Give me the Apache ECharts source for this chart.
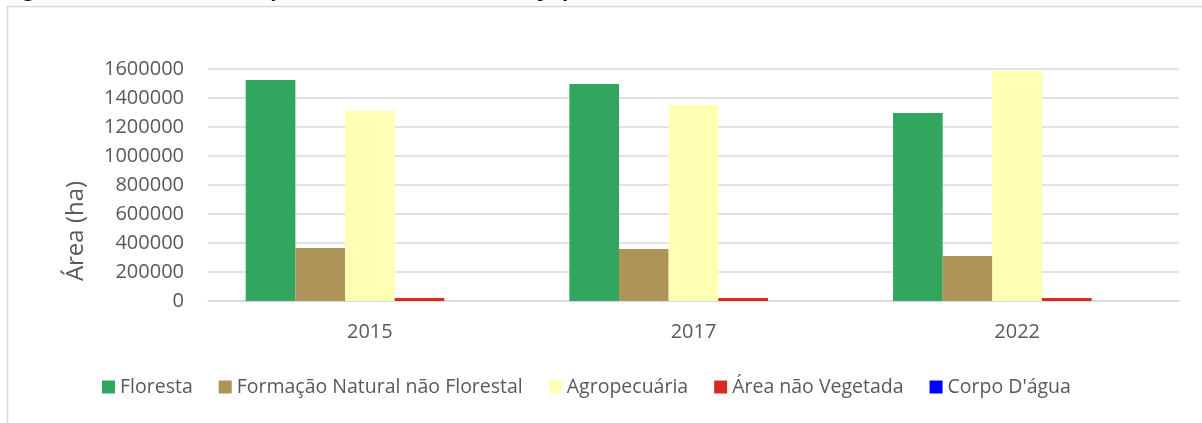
<!DOCTYPE html>
<html>
<head>
<meta charset="utf-8">
<script src="https://cdn.jsdelivr.net/npm/echarts@6/dist/echarts.min.js"></script>
<style>
  html, body { margin: 0; padding: 0; background: #fff; }
  #chart { width: 1202px; height: 423px; }
</style>
</head>
<body>
<div id="chart"></div>
<script>
const years = ['2015', '2017', '2022']
const floresta = [1524000, 1496000, 1297000]
const formacaoNatural = [366000, 359000, 310000]
const agropecuaria = [1310000, 1352000, 1586000]
const areaNaoVegetada = [20000, 20000, 20000]
const corpoDagua = [0, 0, 0]
const yTicks = [0, 200000, 400000, 600000, 800000, 1000000, 1200000, 1400000, 1600000]

const textColor = '#595959'
const font = '"Open Sans", "Noto Sans", sans-serif'

const chart = echarts.init(document.getElementById('chart'))

function bar(name, data, color) {
  return {
    name,
    type: 'bar',
    data,
    barGap: '0%',
    barCategoryGap: '23.3%',
    itemStyle: { color }
  }
}

chart.setOption({
  animation: false,
  textStyle: { fontFamily: font },
  graphic: [
    {
      type: 'rect',
      silent: true,
      shape: { x: 7.5, y: 6.5, width: 1300, height: 500 },
      style: { fill: 'none', stroke: '#d9d9d9', lineWidth: 1.5 }
    },
    {
      type: 'text',
      silent: true,
      left: 2,
      top: -22,
      style: {
        text: 'Figura 6 – Gráfico de evolução das classes de uso e ocupação do solo na área de estudo do ano de 2015 a 2022',
        font: '24px "Liberation Serif", serif',
        fill: '#000'
      }
    },
    {
      // y axis title sits lower than the axis middle in the reference
      type: 'text',
      silent: true,
      x: 76,
      y: 231,
      rotation: Math.PI / 2,
      style: {
        text: 'Área (ha)',
        font: '24px "Open Sans", sans-serif',
        fill: textColor,
        align: 'center',
        verticalAlign: 'middle'
      }
    }
  ],
  legend: {
    left: 97,
    top: 372,
    itemWidth: 13,
    itemHeight: 13,
    itemGap: 26,
    icon: 'rect',
    textStyle: { color: textColor, fontSize: 19.5, fontFamily: font }
  },
  grid: { left: 208, right: 23, top: 69, bottom: 122, containLabel: false },
  xAxis: {
    type: 'category',
    data: years,
    axisLine: { lineStyle: { color: '#d9d9d9', width: 1.5 } },
    axisTick: { show: false },
    axisLabel: { color: textColor, fontSize: 20, margin: 21 }
  },
  yAxis: {
    type: 'value',
    min: yTicks[0],
    max: yTicks[yTicks.length - 1],
    interval: 200000,
    axisLine: { show: false },
    axisTick: { show: false },
    axisLabel: { color: textColor, fontSize: 20, margin: 24, formatter: v => String(v) },
    splitLine: { lineStyle: { color: '#d9d9d9', width: 1.5 } }
  },
  series: [
    bar('Floresta', floresta, '#32a65e'),
    bar('Formação Natural não Florestal', formacaoNatural, '#ad9559'),
    bar('Agropecuária', agropecuaria, '#ffffb3'),
    bar('Área não Vegetada', areaNaoVegetada, '#d82a20'),
    bar("Corpo D'água", corpoDagua, '#0000ff')
  ]
})
</script>
</body>
</html>
